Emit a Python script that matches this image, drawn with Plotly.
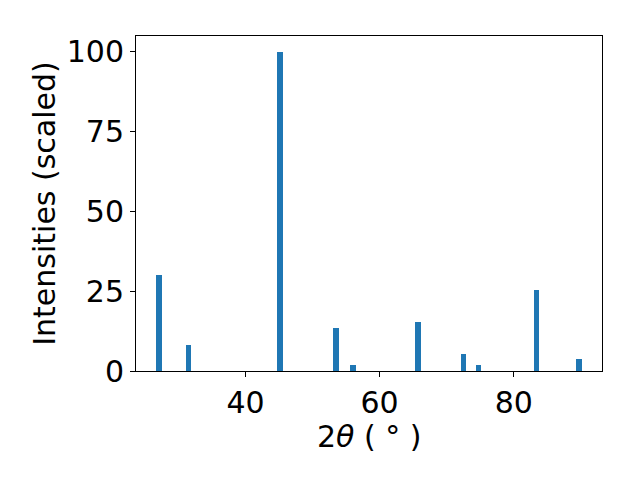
import plotly.graph_objects as go

two_theta = [27.12, 31.46, 45.13, 53.52, 56.05, 65.74, 72.55, 74.78, 83.43, 89.73]
intensity = [30.1, 8.1, 100.0, 13.5, 1.9, 15.4, 5.3, 1.9, 25.4, 3.8]
x_ticks = [40, 60, 80]
y_ticks = [0, 25, 50, 75, 100]

fig = go.Figure()
fig.add_trace(go.Bar(x=two_theta, y=intensity, width=0.8,
                     marker=dict(color="#1f77b4", line=dict(width=0))))

font = dict(family="DejaVu Sans", size=30, color="black")
fig.update_layout(
    width=640, height=480,
    margin=dict(l=128, r=46, t=28, b=117, autoexpand=False),
    paper_bgcolor="white", plot_bgcolor="white",
    showlegend=False, bargap=0,
    font=font,
)
fig.update_xaxes(range=[23.67, 93.16], tickvals=x_ticks, ticks="outside",
                 ticklen=5, tickwidth=1, tickcolor="black",
                 showline=True, linecolor="black", linewidth=1, mirror=True,
                 showgrid=False, zeroline=False, tickfont=font, automargin=False)
fig.update_yaxes(range=[0, 105], tickvals=y_ticks, ticks="outside",
                 ticklen=5, tickwidth=1, tickcolor="black",
                 showline=True, linecolor="black", linewidth=1, mirror=True,
                 showgrid=False, zeroline=False, tickfont=font, automargin=False,
                 title=dict(text="Intensities (scaled)", font=font, standoff=2))
fig.add_annotation(text="2<i>θ</i> ( ° )", xref="paper", yref="paper",
                   x=0.5, y=-0.195, xanchor="center", yanchor="middle",
                   showarrow=False, font=font)
fig.write_html("out.html")
